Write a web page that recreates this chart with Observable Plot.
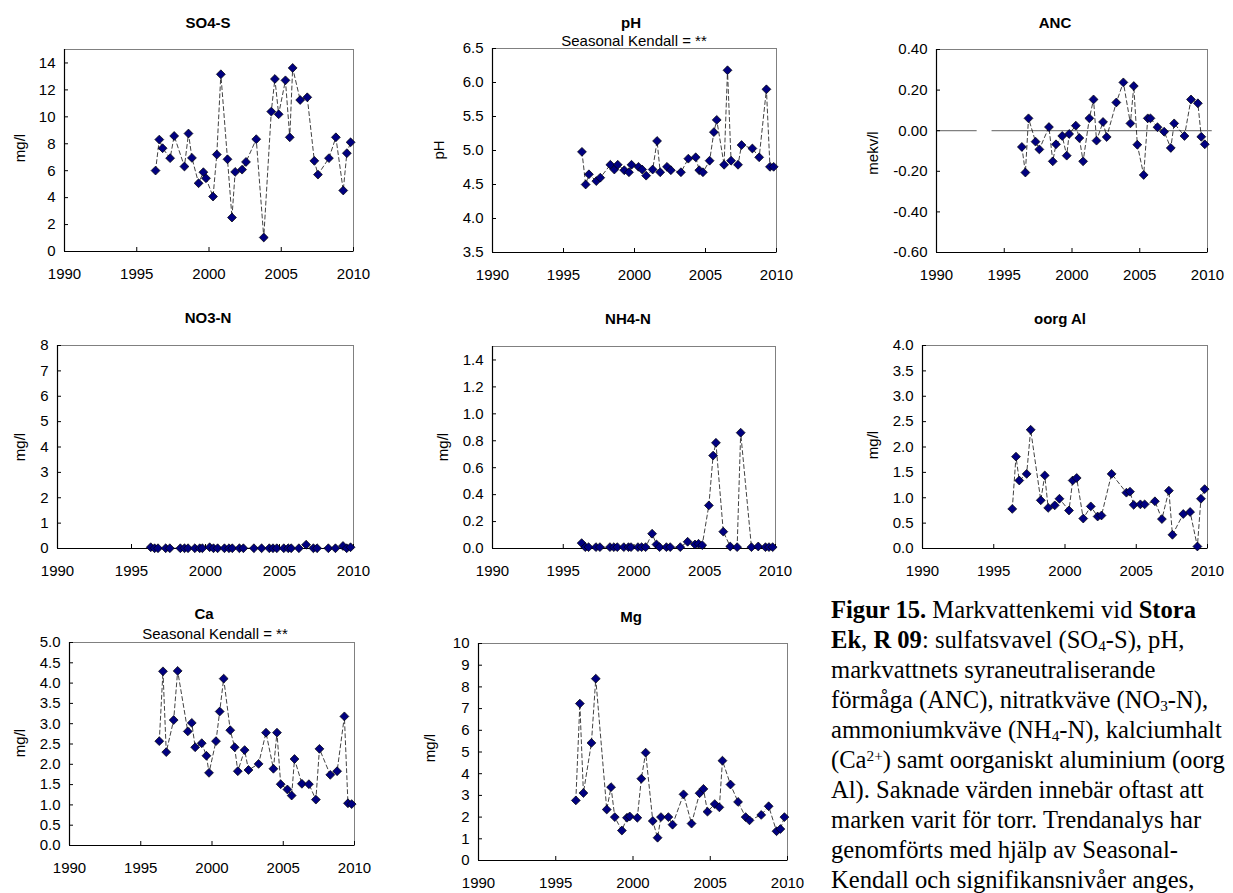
<!DOCTYPE html>
<html>
<head>
<meta charset="utf-8">
<script src="https://cdn.jsdelivr.net/npm/d3@7"></script>
<script src="https://cdn.jsdelivr.net/npm/@observablehq/plot@0.6"></script>
<style>
  html, body { margin: 0; padding: 0; background: #fff; }
  body { width: 1233px; height: 893px; overflow: hidden; position: relative;
         font-family: "Liberation Sans", Arial, sans-serif; color: #000; }
  .panel { position: absolute; }
  .title { position: absolute; font-weight: bold; font-size: 15px; white-space: nowrap;
           transform: translate(-50%, -50%); }
  .sub { position: absolute; font-size: 15px; white-space: nowrap; transform: translate(-50%, -50%); }
  .ylab { position: absolute; font-size: 15px; white-space: nowrap;
          transform: translate(-50%, -50%) rotate(-90deg); }
  #caption { position: absolute; left: 831px; top: 595px; white-space: nowrap;
             font-family: "Liberation Serif", "Times New Roman", serif; font-size: 24.6px;
             line-height: 30px; color: #000; }
  #caption sub, #caption sup { font-size: 0.62em; line-height: 0; }
  #caption sub { vertical-align: -0.2em; }
  #caption sup { vertical-align: 0.45em; }
</style>
</head>
<body>
<script>
// Sampling dates (decimal years), shared by all series; null = no sample (soil too dry)
const dates = [1996.30, 1996.56, 1996.79, 1997.31, 1997.59, 1998.30, 1998.58, 1998.82,
  1999.28, 1999.61, 1999.79, 2000.28, 2000.54, 2000.82, 2001.28, 2001.59, 2001.81,
  2002.29, 2002.56, 2003.27, 2003.79, 2004.31, 2004.56, 2004.82, 2005.29, 2005.59,
  2005.79, 2006.31, 2006.55, 2006.80, 2007.29, 2007.54, 2008.30, 2008.78, 2009.29,
  2009.54, 2009.80];

const so4s = [6.01, 8.31, 7.67, 6.93, 8.58, 6.31, 8.76, 6.95, 5.07, 5.89, 5.44, 4.08, 7.20,
  13.16, 6.85, 2.52, 5.91, 6.08, 6.65, 8.34, 1.04, 10.39, 12.81, 10.19, 12.71, 8.48, 13.63,
  11.25, null, 11.45, 6.73, 5.71, 6.93, 8.48, 4.53, 7.30, 8.11];

const ph = [4.98, 4.50, 4.65, 4.55, 4.60, 4.79, 4.72, 4.79, 4.71, 4.68, 4.79, 4.76, 4.72,
  4.63, 4.72, 5.14, 4.68, 4.76, 4.71, 4.68, 4.88, 4.90, 4.71, 4.68, 4.85, 5.27, 5.45, 4.79,
  6.18, 4.85, 4.79, 5.08, 5.03, 4.90, 5.90, 4.76, 4.76];

const anc = [-0.080, -0.206, 0.061, -0.054, -0.092, 0.018, -0.151, -0.067, -0.026, -0.123,
  -0.016, 0.025, -0.036, -0.151, 0.061, 0.154, -0.049, 0.043, -0.031, 0.139, 0.238, 0.036,
  0.220, -0.069, -0.218, 0.061, 0.061, 0.017, null, -0.005, -0.085, 0.036, -0.026, 0.154,
  0.135, -0.030, -0.067];

// grey zero reference of the ANC panel (two stretches)
const ancZeroFrom = [1990, 1994.1];
const ancZeroTo = [1993.0, 2010.35];

const no3n = [0.05, 0.01, 0.01, 0.01, 0.01, 0.01, 0.01, 0.01, 0.01, 0.01, 0.01, 0.05, 0.01,
  0.01, 0.01, 0.01, 0.01, 0.01, 0.01, 0.01, 0.01, 0.01, 0.01, 0.01, 0.01, 0.01, 0.01, 0.01,
  null, 0.15, 0.01, 0.01, 0.01, 0.01, 0.10, 0.01, 0.05];

const nh4n = [0.04, 0.01, 0.01, 0.01, 0.01, 0.01, 0.01, 0.01, 0.01, 0.01, 0.01, 0.01, 0.01,
  0.01, 0.11, 0.03, 0.01, 0.01, 0.01, 0.01, 0.05, 0.03, 0.035, 0.025, 0.32, 0.69, 0.785,
  0.125, null, 0.015, 0.01, 0.86, 0.01, 0.015, 0.01, 0.01, 0.01];

const oorgAl = [0.78, 1.81, 1.34, 1.47, 2.34, 0.95, 1.44, 0.80, 0.85, 0.98, null, 0.75, 1.34,
  1.39, 0.59, null, 0.83, 0.63, 0.65, 1.47, null, 1.10, 1.12, 0.86, 0.87, 0.87, null, 0.93,
  null, 0.58, 1.14, 0.27, 0.68, 0.72, 0.04, 0.98, 1.17];

const ca = [2.57, 4.29, 2.30, 3.09, 4.30, 2.81, 3.02, 2.42, 2.52, 2.21, 1.79, 2.57, 3.30,
  4.11, 2.84, 2.42, 1.83, 2.35, 1.86, 2.01, 2.78, 1.89, 2.78, 1.51, 1.38, 1.23, 2.13, 1.52,
  null, 1.51, 1.13, 2.38, 1.74, 1.83, 3.18, 1.04, 1.02];

const mg = [2.77, 7.23, 3.11, 5.42, 8.38, 2.35, 3.38, 2.00, 1.38, 1.97, 2.03, 1.97, 3.77,
  4.97, 1.82, 1.05, 2.00, 2.00, 1.65, 3.05, 1.70, 3.10, 3.30, 2.25, 2.60, 2.45, 4.60, 3.50,
  null, 2.70, 2.00, 1.85, 2.10, 2.50, 1.35, 1.45, 2.00];

// Axis ticks
const yearTicks = [1990, 1995, 2000, 2005, 2010];
const so4Ticks = [0, 2, 4, 6, 8, 10, 12, 14];
const phTicks = [3.5, 4.0, 4.5, 5.0, 5.5, 6.0, 6.5];
const ancTicks = [-0.6, -0.4, -0.2, 0, 0.2, 0.4];
const no3Ticks = [0, 1, 2, 3, 4, 5, 6, 7, 8];
const nh4Ticks = [0, 0.2, 0.4, 0.6, 0.8, 1.0, 1.2, 1.4];
const alTicks = [0, 0.5, 1.0, 1.5, 2.0, 2.5, 3.0, 3.5, 4.0];
const caTicks = [0, 0.5, 1.0, 1.5, 2.0, 2.5, 3.0, 3.5, 4.0, 4.5, 5.0];
const mgTicks = [0, 1, 2, 3, 4, 5, 6, 7, 8, 9, 10];

const fmt0 = d => d.toFixed(0);
const fmt1 = d => d.toFixed(1);
const fmt2 = d => (Math.abs(d) < 1e-9 ? 0 : d).toFixed(2);

// Panel layout: plot-area box in page pixels, label anchors
const panels = [
  { values: so4s, domain: [0, 15], ticks: so4Ticks, fmt: fmt0, box: [64, 49, 353, 251],
    title: "SO4-S", tpos: [208, 22], ylabel: "mg/l", ypos: [19, 148] },
  { values: ph, domain: [3.5, 6.5], ticks: phTicks, fmt: fmt1, box: [492, 48, 776, 252],
    title: "pH", tpos: [631, 22], sub: "Seasonal Kendall = **", spos: [634, 40],
    ylabel: "pH", ypos: [438, 150] },
  { values: anc, domain: [-0.6, 0.4], ticks: ancTicks, fmt: fmt2, box: [936, 49, 1207, 252],
    title: "ANC", tpos: [1055, 22], ylabel: "mekv/l", ypos: [872, 153], zero: true },
  { values: no3n, domain: [0, 8], ticks: no3Ticks, fmt: fmt0, box: [57, 345, 353, 548],
    title: "NO3-N", tpos: [208, 317], ylabel: "mg/l", ypos: [19, 447] },
  { values: nh4n, domain: [0, 1.5], ticks: nh4Ticks, fmt: fmt1, box: [492, 346, 775, 548],
    title: "NH4-N", tpos: [628, 318], ylabel: "mg/l", ypos: [442, 447] },
  { values: oorgAl, domain: [0, 4], ticks: alTicks, fmt: fmt1, box: [922, 345, 1207, 548],
    title: "oorg Al", tpos: [1060, 318], ylabel: "mg/l", ypos: [872, 445] },
  { values: ca, domain: [0, 5], ticks: caTicks, fmt: fmt1, box: [69, 642, 354, 845],
    title: "Ca", tpos: [204, 613], sub: "Seasonal Kendall = **", spos: [215, 633],
    ylabel: "mg/l", ypos: [19, 743] },
  { values: mg, domain: [0, 10], ticks: mgTicks, fmt: fmt0, box: [478, 643, 787, 860],
    title: "Mg", tpos: [631, 616], ylabel: "mg/l", ypos: [429, 748] }
];

const mL = 60, mR = 12, mT = 12, mB = 40;

function addText(cls, text, [x, y]) {
  const el = document.createElement("div");
  el.className = cls;
  el.textContent = text;
  el.style.left = x + "px";
  el.style.top = y + "px";
  document.body.appendChild(el);
}

for (const p of panels) {
  const [l, t, r, b] = p.box;
  const rows = dates.map((x, i) => ({ x, y: p.values[i] })).filter(d => d.y != null);
  const marks = [Plot.frame({ stroke: "#808080", strokeWidth: 1 })];
  if (p.zero) {
    marks.push(Plot.ruleY(ancZeroFrom.map((x1, i) => ({ x1, x2: ancZeroTo[i], y: 0 })),
      { x1: "x1", x2: "x2", y: "y", stroke: "#808080", strokeWidth: 1.3 }));
  }
  marks.push(
    Plot.ruleX([1990], { stroke: "#000", strokeWidth: 1.2 }),
    Plot.ruleY([p.domain[0]], { stroke: "#000", strokeWidth: 1.2 }),
    Plot.axisX({ ticks: yearTicks, tickFormat: d => String(d), tickSize: -4, tickPadding: 20.5,
      label: null, fontSize: 15 }),
    Plot.axisY({ ticks: p.ticks, tickFormat: p.fmt, tickSize: -4, tickPadding: 13,
      label: null, fontSize: 15 }),
    Plot.line(rows, { x: "x", y: "y", stroke: "#111", strokeWidth: 0.8, strokeDasharray: "4,3" }),
    Plot.dot(rows, { x: "x", y: "y", symbol: "diamond2", r: 4, fill: "#000080",
      stroke: "#000", strokeWidth: 0.7 })
  );
  const chart = Plot.plot({
    width: (r - l) + mL + mR,
    height: (b - t) + mT + mB,
    marginLeft: mL, marginRight: mR, marginTop: mT, marginBottom: mB,
    style: { fontFamily: '"Liberation Sans", Arial, sans-serif', fontSize: "15px",
      color: "#000", background: "transparent", overflow: "visible" },
    x: { domain: [1990, 2010], label: null },
    y: { domain: p.domain, label: null },
    marks
  });
  const wrap = document.createElement("div");
  wrap.className = "panel";
  wrap.style.left = (l - mL) + "px";
  wrap.style.top = (t - mT) + "px";
  wrap.appendChild(chart);
  document.body.appendChild(wrap);

  addText("title", p.title, p.tpos);
  if (p.sub) addText("sub", p.sub, p.spos);
  addText("ylab", p.ylabel, p.ypos);
}

// Figure caption
const cap = document.createElement("div");
cap.id = "caption";
cap.innerHTML =
  "<b>Figur 15.</b> Markvattenkemi vid <b>Stora</b><br>" +
  "<b>Ek</b>, <b>R 09</b>: sulfatsvavel (SO<sub>4</sub>-S), pH,<br>" +
  "markvattnets syraneutraliserande<br>" +
  "förmåga (ANC), nitratkväve (NO<sub>3</sub>-N),<br>" +
  "ammoniumkväve (NH<sub>4</sub>-N), kalciumhalt<br>" +
  "(Ca<sup>2+</sup>) samt oorganiskt aluminium (oorg<br>" +
  "Al). Saknade värden innebär oftast att<br>" +
  "marken varit för torr. Trendanalys har<br>" +
  "genomförts med hjälp av Seasonal-<br>" +
  "Kendall och signifikansnivåer anges,";
document.body.appendChild(cap);
</script>
</body>
</html>
